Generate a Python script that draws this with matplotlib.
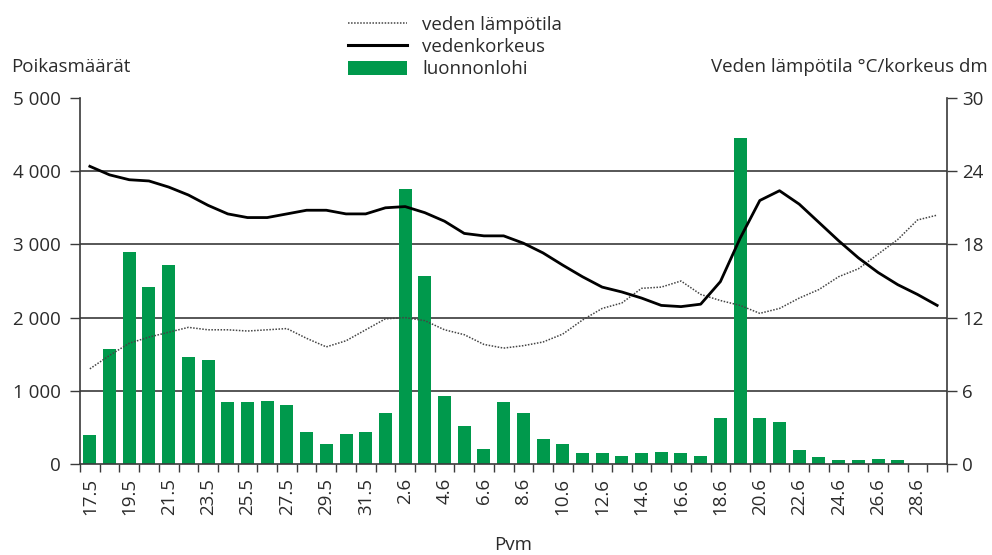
import matplotlib
matplotlib.use("Agg")
import matplotlib.pyplot as plt
from matplotlib.lines import Line2D
from matplotlib.patches import Patch

plt.rcParams["font.family"] = ["Open Sans", "DejaVu Sans"]

# päivämäärät 17.5 - 29.6
dates = [f"{d}.5" for d in range(17, 32)] + [f"{d}.6" for d in range(1, 30)]

# luonnonlohi, poikasmäärät
fry = [390, 1575, 2890, 2420, 2725, 1455, 1415, 845, 845, 860, 810, 435, 280, 415, 435,
       700, 3760, 2570, 925, 515, 210, 845, 700, 335, 270, 150, 150, 110, 150, 170, 150,
       115, 625, 4450, 625, 580, 190, 95, 55, 55, 70, 55, 0, 0]

# veden lämpötila, C
temp = [7.8, 8.9, 9.9, 10.4, 10.8, 11.2, 11.0, 11.0, 10.9, 11.0, 11.1, 10.3, 9.6, 10.1, 11.0,
        11.9, 12.0, 11.75, 11.0, 10.6, 9.8, 9.5, 9.7, 10.0, 10.65, 11.8, 12.75, 13.2, 14.4, 14.5,
        15.0, 13.9, 13.4, 13.0, 12.35, 12.75, 13.6, 14.3, 15.35, 16.0, 17.2, 18.4, 20.0, 20.4]

# vedenkorkeus, dm
level = [24.4, 23.7, 23.3, 23.2, 22.7, 22.05, 21.2, 20.5, 20.2, 20.2, 20.5, 20.8, 20.8, 20.5, 20.5,
         21.0, 21.1, 20.6, 19.9, 18.9, 18.7, 18.7, 18.1, 17.3, 16.3, 15.35, 14.5, 14.1, 13.6, 13.0,
         12.9, 13.1, 14.95, 18.5, 21.6, 22.4, 21.3, 19.8, 18.3, 16.9, 15.7, 14.7, 13.9, 13.0]

left_ticks = [0, 1000, 2000, 3000, 4000, 5000]
left_labels = ["0", "1 000", "2 000", "3 000", "4 000", "5 000"]
right_ticks = [0, 6, 12, 18, 24, 30]

green = "#00994c"
txt = "#2b2b2b"
grid = "#3a3a3a"
fs = 13.5

fig = plt.figure(figsize=(9.92, 5.55), dpi=100)
ax = fig.add_axes([80 / 992, 91 / 555, 867 / 992, 366 / 555])
x = list(range(len(dates)))

ax.bar(x, fry, width=0.66, color=green, zorder=2)
ax.set_xlim(-0.5, len(dates) - 0.5)
ax.set_ylim(0, 5000)
ax.set_yticks(left_ticks)
ax.set_yticklabels(left_labels)
for v in left_ticks[1:-1]:
    ax.axhline(v, color=grid, lw=1.2, zorder=1)

ax.set_xticks(x[::2])
ax.set_xticklabels(dates[::2], rotation=90)
ax.set_xticks([i - 0.5 for i in range(len(dates) + 1)], minor=True)
ax.tick_params(axis="x", which="major", length=0, pad=10, labelsize=fs, colors=txt)
ax.tick_params(axis="x", which="minor", length=6, width=1, color=grid, direction="out")
ax.tick_params(axis="y", length=7, width=1, color=grid, pad=7, labelsize=fs, labelcolor=txt)

for s in ["top", "right"]:
    ax.spines[s].set_visible(False)
for s in ["left", "bottom"]:
    ax.spines[s].set_color(grid)
    ax.spines[s].set_linewidth(1.2)

ax2 = ax.twinx()
ax2.set_ylim(0, 30)
ax2.set_yticks(right_ticks)
ax2.tick_params(axis="y", length=7, width=1, color=grid, pad=4, labelsize=fs, labelcolor=txt)
for s in ["top", "left", "bottom"]:
    ax2.spines[s].set_visible(False)
ax2.spines["right"].set_color(grid)
ax2.spines["right"].set_linewidth(1.2)

ax2.plot(x, temp, color="#444444", lw=1.1, linestyle=(0, (1, 1)), zorder=3)
ax2.plot(x, level, color="black", lw=2.0, zorder=4)

ax.set_xlabel("Pvm", fontsize=fs, color=txt, labelpad=15)
fig.text(11 / 992, 1 - 67 / 555, "Poikasmäärät", fontsize=fs, color=txt, va="center", ha="left")
fig.text(988 / 992, 1 - 67 / 555, "Veden lämpötila °C/korkeus dm", fontsize=fs, color=txt,
         va="center", ha="right")

handles = [
    Line2D([], [], color="#444444", lw=1.1, linestyle=(0, (1, 1))),
    Line2D([], [], color="black", lw=2.2),
    Patch(facecolor=green, edgecolor="none"),
]
fig.legend(handles, ["veden lämpötila", "vedenkorkeus", "luonnonlohi"],
           loc="upper left", bbox_to_anchor=(348 / 992, 1 - 16 / 555), frameon=False,
           fontsize=fs, handlelength=59 / 18.75, handleheight=0.75, handletextpad=0.8,
           labelspacing=0.22, borderpad=0, borderaxespad=0, labelcolor=txt)

fig.savefig("out.png", dpi=100)
